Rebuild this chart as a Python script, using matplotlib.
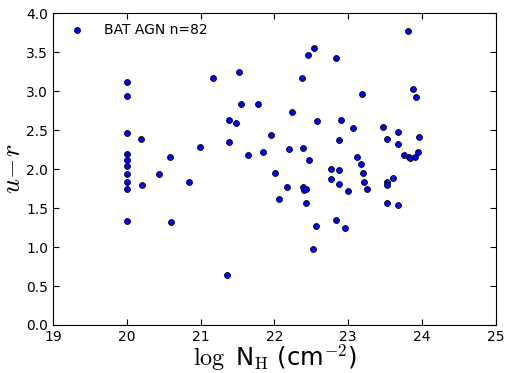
import numpy as np
import matplotlib
matplotlib.use("Agg")
import matplotlib.pyplot as plt

# log NH and u-r colour for the BAT AGN sample
nh = [20.0, 20.0, 20.0, 20.0, 20.0, 20.0, 20.0, 20.0, 20.0, 20.0,
      20.19, 20.58, 20.99, 20.20, 20.43, 20.84, 20.60,
      21.17, 21.52, 21.39, 21.48, 21.55, 21.78, 21.39, 21.64, 21.84, 21.95,
      22.24, 22.20, 22.39, 22.47, 22.38, 22.46, 22.53, 22.58, 22.84, 22.90,
      22.88, 22.76, 22.87,
      22.01, 22.17, 22.39, 22.40, 22.43, 22.06, 22.43, 22.76, 22.88, 23.00,
      22.56, 22.84, 22.95, 22.52, 21.36,
      23.81, 23.19, 23.88, 23.92, 23.06, 23.47, 23.67, 23.52, 23.96, 23.68,
      23.12, 23.17, 23.75, 23.82, 23.84, 23.90, 23.94,
      23.20, 23.22, 23.25, 23.52, 23.52, 23.60, 23.53, 23.67]
ur = [3.11, 2.94, 2.46, 2.19, 2.11, 2.04, 1.94, 1.84, 1.74, 1.33,
      2.38, 2.15, 2.28, 1.80, 1.93, 1.83, 1.32,
      3.17, 3.25, 2.63, 2.59, 2.84, 2.84, 2.35, 2.18, 2.22, 2.44,
      2.73, 2.26, 2.27, 2.12, 3.17, 3.46, 3.55, 2.62, 3.43, 2.63,
      2.37, 2.00, 1.99,
      1.95, 1.77, 1.77, 1.73, 1.74, 1.62, 1.56, 1.87, 1.81, 1.72,
      1.27, 1.34, 1.24, 0.97, 0.64,
      3.77, 2.96, 3.02, 2.92, 2.53, 2.54, 2.48, 2.38, 2.41, 2.32,
      2.15, 2.07, 2.18, 2.16, 2.14, 2.15, 2.22,
      1.95, 1.84, 1.74, 1.83, 1.80, 1.88, 1.57, 1.54]

plt.rcParams['mathtext.fontset'] = 'cm'
plt.rcParams['xtick.direction'] = 'in'
plt.rcParams['ytick.direction'] = 'in'

fig = plt.figure(figsize=(5.07, 3.73), dpi=100)
ax = fig.add_axes([0.1045, 0.1287, 0.8735, 0.8363])

ax.scatter(nh, ur, s=18, c='#0000ff', edgecolors='black', linewidths=0.6,
           label='BAT AGN n=82', zorder=3)

ax.set_xlim(19, 25)
ax.set_ylim(0, 4)
ax.set_xticks(np.arange(19, 26, 1))
ax.set_yticks(np.arange(0, 4.01, 0.5))
ax.yaxis.set_major_formatter(matplotlib.ticker.FormatStrFormatter('%.1f'))
ax.tick_params(top=True, right=True, labelsize=10, length=4)

ax.set_xlabel(r'$\log$ N$_{\rm H}$ (cm$^{-2}$)', fontsize=17.5)
ax.xaxis.set_label_coords(0.5, -0.058)
ax.set_ylabel(r'$u\!-\!r$', fontsize=19)
ax.yaxis.set_label_coords(-0.06, 0.5)

ax.legend(loc='upper left', frameon=False, scatterpoints=1, fontsize=10,
          borderaxespad=0.3, handletextpad=1.0)

fig.savefig('out.png', dpi=100)
